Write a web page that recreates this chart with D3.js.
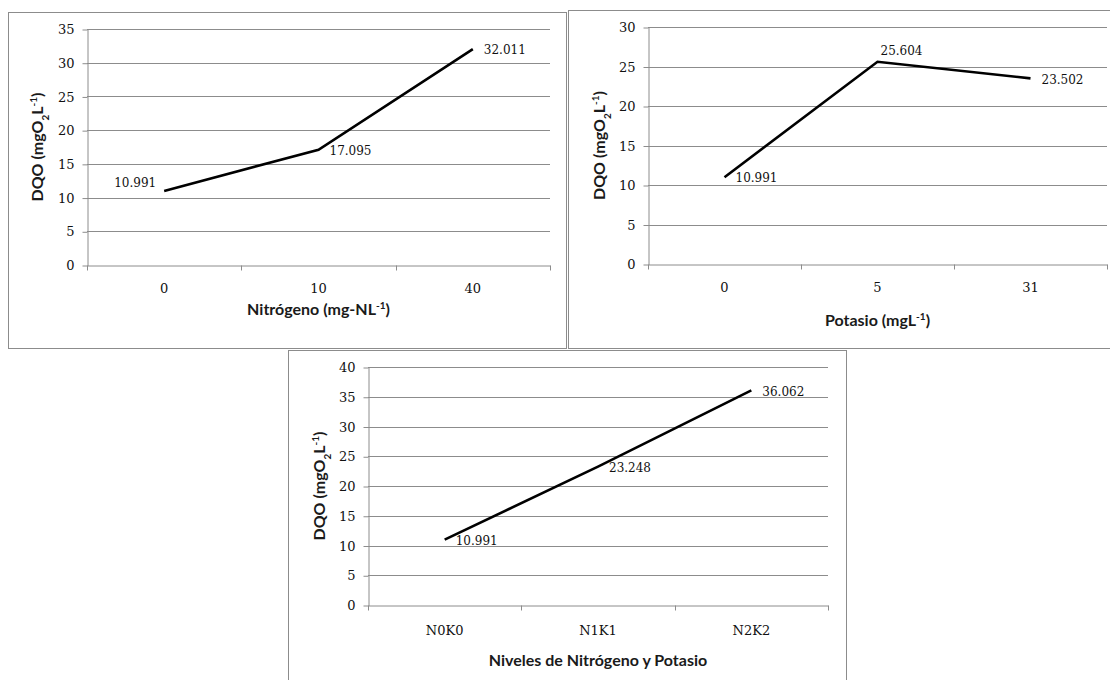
<!DOCTYPE html>
<html>
<head>
<meta charset="utf-8">
<script src="https://cdn.jsdelivr.net/npm/d3@7"></script>
<style>
  body { margin: 0; background: #fff; }
  svg { display: block; }
  .grid line { stroke: #8c8c8c; stroke-width: 1; }
  .axis path, .axis line { stroke: #8c8c8c; }
  .axis text { font-family: "DejaVu Serif", serif; font-size: 13px; fill: #111; }
  .dlabel { font-family: "DejaVu Serif", serif; font-size: 12px; fill: #111; }
  .title { font-family: Lato, sans-serif; font-weight: 700; font-size: 16px; fill: #1a1a1a; }
</style>
</head>
<body>
<script>
// chart data
var nitroCats = ["0", "10", "40"];
var nitroVals = [10.991, 17.095, 32.011];
var nitroTicks = [0, 5, 10, 15, 20, 25, 30, 35];

var potCats = ["0", "5", "31"];
var potVals = [10.991, 25.604, 23.502];
var potTicks = [0, 5, 10, 15, 20, 25, 30];

var nkCats = ["N0K0", "N1K1", "N2K2"];
var nkVals = [10.991, 23.248, 36.062];
var nkTicks = [0, 5, 10, 15, 20, 25, 30, 35, 40];

var W = 1110, H = 680;
var svg = d3.select("body").append("svg")
    .attr("width", W)
    .attr("height", H);

function drawPanel(p) {
    //frame
    svg.append("rect")
        .attr("x", p.box[0] + 0.5).attr("y", p.box[1] + 0.5)
        .attr("width", p.box[2] - p.box[0]).attr("height", p.box[3] - p.box[1])
        .attr("fill", "#fff").attr("stroke", "#8c8c8c");

    var x = d3.scaleBand().domain(p.cats).range([p.left, p.right]);
    var y = d3.scaleLinear().domain([0, d3.max(p.ticks)]).range([p.bottom, p.top]);

    //gridlines
    svg.append("g").attr("class", "grid")
        .selectAll("line").data(p.ticks.slice(1)).join("line")
        .attr("x1", p.left).attr("x2", p.right)
        .attr("y1", function(d){ return Math.round(y(d)) + 0.5; })
        .attr("y2", function(d){ return Math.round(y(d)) + 0.5; });

    //y axis
    svg.append("g").attr("class", "axis")
        .attr("transform", "translate(" + (p.left + 0.5) + ",0.5)")
        .call(d3.axisLeft(y).tickValues(p.ticks).tickSize(5).tickSizeOuter(0).tickPadding(8));

    //x axis, ticks at band edges
    var xa = svg.append("g").attr("class", "axis")
        .attr("transform", "translate(0," + (Math.round(p.bottom) + 0.5) + ")")
        .call(d3.axisBottom(x).tickSize(0).tickPadding(p.catPad));
    var edges = p.cats.map(function(c){ return x(c); }).concat([p.right]);
    xa.selectAll("line.edge").data(edges).join("line")
        .attr("class", "edge")
        .attr("x1", function(d){ return Math.round(d) + 0.5; })
        .attr("x2", function(d){ return Math.round(d) + 0.5; })
        .attr("y1", 0).attr("y2", 5);

    //the line
    var line = d3.line()
        .x(function(d, i){ return x(p.cats[i]) + x.bandwidth() / 2; })
        .y(function(d){ return y(d); });
    svg.append("path")
        .datum(p.vals)
        .attr("d", line)
        .attr("fill", "none")
        .attr("stroke", "#000")
        .attr("stroke-width", 2.6);

    //data labels
    svg.append("g").selectAll("text").data(p.vals).join("text")
        .attr("class", "dlabel")
        .attr("x", function(d, i){
            var cx = x(p.cats[i]) + x.bandwidth() / 2;
            return p.lpos[i] == "left" ? cx - 8 : cx + 11;
        })
        .attr("y", function(d, i){
            var off = p.lpos[i] == "left" ? -8 : (p.lpos[i] == "above" ? -11 : 1);
            return y(d) + off;
        })
        .attr("dy", "0.35em")
        .attr("text-anchor", function(d, i){ return p.lpos[i] == "left" ? "end" : "start"; })
        .attr("dx", function(d, i){ return p.lpos[i] == "above" ? -8 : 0; })
        .text(function(d){ return d3.format(".3f")(d); });

    //y title
    var yt = svg.append("text").attr("class", "title")
        .attr("text-anchor", "middle")
        .attr("transform", "translate(" + p.ytX + "," + ((p.top + p.bottom) / 2) + ") rotate(-90)");
    yt.append("tspan").text("DQO (mgO");
    yt.append("tspan").attr("baseline-shift", "sub").attr("font-size", "10px").text("2");
    yt.append("tspan").text("L");
    yt.append("tspan").attr("baseline-shift", "super").attr("font-size", "10px").text("-1");
    yt.append("tspan").text(")");

    //x title
    var xt = svg.append("text").attr("class", "title")
        .attr("text-anchor", "middle")
        .attr("x", (p.left + p.right) / 2)
        .attr("y", p.xtY);
    xt.append("tspan").text(p.xTitle[0]);
    if (p.xTitle.length > 1) {
        xt.append("tspan").attr("baseline-shift", "super").attr("font-size", "10px").text(p.xTitle[1]);
        xt.append("tspan").text(p.xTitle[2]);
    }
}

drawPanel({
    box: [8, 12, 566, 348], left: 87, right: 550, top: 29, bottom: 265,
    cats: nitroCats, vals: nitroVals, ticks: nitroTicks,
    lpos: ["left", "right", "right"], catPad: 18,
    ytX: 43, xtY: 315, xTitle: ["Nitrógeno (mg-NL", "-1", ")"]
});

drawPanel({
    box: [568, 10, 1116, 348], left: 648, right: 1107, top: 27, bottom: 264,
    cats: potCats, vals: potVals, ticks: potTicks,
    lpos: ["right", "above", "right"], catPad: 18,
    ytX: 605, xtY: 326, xTitle: ["Potasio (mgL", "-1", ")"]
});

drawPanel({
    box: [288, 350, 846, 700], left: 368, right: 828, top: 367, bottom: 605,
    cats: nkCats, vals: nkVals, ticks: nkTicks,
    lpos: ["right", "right", "right"], catPad: 20,
    ytX: 325, xtY: 666, xTitle: ["Niveles de Nitrógeno y Potasio"]
});
</script>
</body>
</html>
